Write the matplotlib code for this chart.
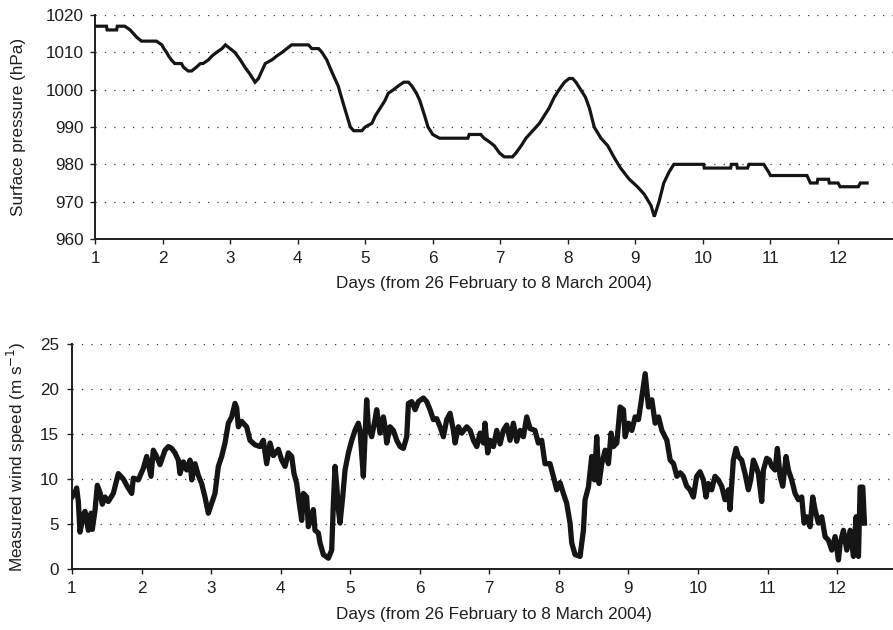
import matplotlib
matplotlib.use("Agg")
import matplotlib.pyplot as plt

plt.rcParams['font.family'] = ['Liberation Sans', 'DejaVu Sans']

# ---- Surface pressure (days, hPa) ----
p_days = [1.0, 1.17, 1.18, 1.32, 1.33, 1.44, 1.52, 1.57, 1.62, 1.69, 1.91, 1.99, 2.02, 2.06, 2.09,
          2.13, 2.18, 2.28, 2.31, 2.38, 2.43, 2.50, 2.56, 2.60, 2.68, 2.73, 2.80, 2.88, 2.93, 3.00,
          3.07, 3.15, 3.22, 3.30, 3.37, 3.42, 3.47, 3.52, 3.62, 3.69, 3.77, 3.84, 3.91, 4.16, 4.21,
          4.31, 4.36, 4.43, 4.50, 4.60, 4.68, 4.73, 4.78, 4.83, 4.95, 5.00, 5.10, 5.15, 5.22, 5.29,
          5.34, 5.42, 5.49, 5.57, 5.64, 5.69, 5.76, 5.81, 5.88, 5.93, 6.00, 6.10, 6.52, 6.54, 6.71,
          6.76, 6.84, 6.91, 6.99, 7.06, 7.18, 7.23, 7.31, 7.38, 7.48, 7.58, 7.65, 7.72, 7.80, 7.87,
          7.95, 8.02, 8.07, 8.12, 8.19, 8.26, 8.32, 8.39, 8.49, 8.59, 8.68, 8.78, 8.91, 9.03, 9.13,
          9.23, 9.28, 9.35, 9.42, 9.50, 9.57, 10.01, 10.02, 10.41, 10.42, 10.50, 10.51, 10.66, 10.68,
          10.90, 10.97, 11.00, 11.54, 11.59, 11.69, 11.70, 11.86, 11.87, 12.00, 12.03, 12.30, 12.33, 12.43]
p_vals = [1017, 1017, 1016, 1016, 1017, 1017, 1016, 1015, 1014, 1013, 1013, 1012, 1011, 1010, 1009,
          1008, 1007, 1007, 1006, 1005, 1005, 1006, 1007, 1007, 1008, 1009, 1010, 1011, 1012, 1011,
          1010, 1008, 1006, 1004, 1002, 1003, 1005, 1007, 1008, 1009, 1010, 1011, 1012, 1012, 1011,
          1011, 1010, 1008, 1005, 1001, 996, 993, 990, 989, 989, 990, 991, 993, 995, 997,
          999, 1000, 1001, 1002, 1002, 1001, 999, 997, 993, 990, 988, 987, 987, 988, 988,
          987, 986, 985, 983, 982, 982, 983, 985, 987, 989, 991, 993, 995, 998, 1000,
          1002, 1003, 1003, 1002, 1000, 998, 995, 990, 987, 985, 982, 979, 976, 974, 972,
          969, 966, 970, 975, 978, 980, 980, 979, 979, 980, 980, 979, 979, 980,
          980, 978, 977, 977, 975, 975, 976, 976, 975, 975, 974, 974, 975, 975]

# ---- Measured wind speed (days, m/s) ----
w_days = [1.000, 1.043, 1.067, 1.091, 1.115, 1.163, 1.187, 1.235, 1.273, 1.292, 1.331, 1.364, 1.403,
          1.436, 1.474, 1.522, 1.594, 1.666, 1.738, 1.786, 1.858, 1.882, 1.954, 2.026, 2.074, 2.136,
          2.169, 2.217, 2.265, 2.337, 2.385, 2.433, 2.481, 2.529, 2.553, 2.601, 2.649, 2.697, 2.721,
          2.769, 2.816, 2.864, 2.912, 2.960, 3.008, 3.056, 3.104, 3.152, 3.200, 3.248, 3.296, 3.344,
          3.368, 3.392, 3.439, 3.511, 3.559, 3.631, 3.703, 3.751, 3.799, 3.847, 3.895, 3.967,
          4.015, 4.063, 4.111, 4.159, 4.192, 4.231, 4.255, 4.303, 4.327, 4.374, 4.398, 4.446, 4.470,
          4.494, 4.542, 4.566, 4.614, 4.686, 4.734, 4.758, 4.782, 4.806, 4.830, 4.854, 4.892, 4.926,
          4.974, 5.022, 5.069, 5.117, 5.141, 5.189, 5.213, 5.237, 5.261, 5.309, 5.357, 5.381, 5.429,
          5.477, 5.501, 5.525, 5.573, 5.621, 5.669, 5.717, 5.765, 5.813, 5.837, 5.885, 5.933, 5.980,
          6.052, 6.100, 6.148, 6.196, 6.244, 6.292, 6.340, 6.388, 6.436, 6.484, 6.508, 6.556, 6.604,
          6.676, 6.724, 6.772, 6.820, 6.868, 6.916,
          6.938, 6.977, 7.011, 7.059, 7.107, 7.155, 7.202, 7.250, 7.298, 7.346, 7.394, 7.442, 7.490,
          7.538, 7.586, 7.657, 7.705, 7.753, 7.801, 7.873, 7.921, 7.969, 8.017, 8.065, 8.113, 8.161,
          8.185, 8.233, 8.305, 8.353, 8.377, 8.425, 8.473, 8.511, 8.545, 8.578, 8.617, 8.665, 8.713,
          8.751, 8.785, 8.833, 8.881, 8.929, 8.953, 9.001, 9.049, 9.097, 9.145, 9.193, 9.241, 9.265,
          9.289, 9.337, 9.385, 9.433, 9.481, 9.553, 9.601, 9.649, 9.697, 9.745,
          9.790, 9.838, 9.886, 9.934, 9.982, 10.030, 10.078, 10.116, 10.150, 10.197, 10.245, 10.293,
          10.341, 10.389, 10.437, 10.461, 10.509, 10.548, 10.581, 10.629, 10.677, 10.725, 10.759,
          10.797, 10.835, 10.869, 10.917, 10.941, 10.989, 11.027, 11.061, 11.109, 11.142, 11.181,
          11.219, 11.267, 11.300, 11.348, 11.396, 11.444, 11.492, 11.526, 11.564, 11.612, 11.650,
          11.684, 11.732, 11.780, 11.828, 11.876, 11.924, 11.972, 12.020, 12.044, 12.092, 12.140,
          12.188, 12.236, 12.274, 12.308, 12.332, 12.370, 12.394]
w_vals = [8.0, 8.5, 9.0, 7.5, 4.1, 6.0, 6.4, 4.3, 6.2, 4.4, 6.5, 9.3, 8.5,
          7.2, 8.0, 7.5, 8.4, 10.6, 10.0, 9.3, 8.4, 10.1, 9.9, 11.2, 12.5, 10.3,
          13.2, 12.5, 11.6, 13.2, 13.6, 13.4, 12.9, 12.1, 10.6, 11.9, 11.0, 12.1, 9.9,
          11.7, 10.4, 9.5, 8.0, 6.2, 7.3, 8.4, 11.4, 12.5, 14.0, 16.2, 16.9, 18.4,
          17.9, 15.8, 16.4, 15.8, 14.3, 13.8, 13.6, 14.3, 11.7, 14.0, 12.6, 13.3,
          12.1, 11.4, 12.9, 12.5, 10.6, 9.5, 8.0, 5.4, 8.4, 8.0, 4.7, 5.8, 6.6,
          4.3, 4.0, 2.9, 1.6, 1.2, 2.1, 7.3, 11.4, 9.3, 6.6, 5.1, 8.0, 11.0,
          12.9, 14.3, 15.4, 16.2, 15.4, 10.3, 14.7, 18.8, 15.8, 14.7, 16.6, 17.7, 15.1,
          16.9, 15.8, 14.0, 15.8, 15.4, 14.3, 13.6, 13.4, 14.7, 18.4, 18.6, 17.7, 18.6,
          19.0, 18.6, 17.7, 16.6, 16.7, 15.8, 14.7, 16.6, 17.3, 15.4, 14.0, 15.8, 15.1,
          15.8, 15.4, 14.3, 13.6, 15.1, 14.0,
          16.2, 12.9, 14.3, 13.6, 15.4, 13.9, 15.4, 16.0, 14.3, 16.2, 14.2, 15.4, 14.7,
          16.9, 15.6, 15.4, 14.0, 14.3, 11.7, 11.7, 10.3, 8.8, 9.6, 8.4, 7.3, 5.1,
          2.9, 1.6, 1.4, 4.3, 7.7, 9.1, 12.5, 9.9, 14.7, 9.5, 11.7, 13.2, 11.7,
          15.1, 13.6, 14.0, 18.0, 17.7, 14.7, 16.2, 15.4, 16.9, 16.6, 19.1, 21.7, 19.9,
          18.0, 18.8, 16.2, 16.9, 15.4, 14.3, 12.1, 11.7, 10.3, 10.7,
          10.3, 9.2, 8.8, 8.0, 10.3, 10.8, 9.9, 8.0, 9.5, 8.8, 10.3, 9.9,
          9.2, 7.7, 8.8, 6.6, 12.1, 13.4, 12.5, 12.1, 10.6, 8.8, 9.9,
          12.1, 11.4, 10.6, 7.5, 11.0, 12.3, 12.1, 11.4, 11.0, 13.4, 10.3,
          9.2, 12.5, 11.0, 9.9, 8.4, 7.7, 8.0, 5.1, 5.8, 4.7, 8.0,
          6.6, 5.1, 5.8, 3.6, 3.2, 2.1, 3.6, 1.0, 2.8, 4.3, 2.1,
          4.3, 1.4, 5.8, 1.4, 9.1, 9.1, 5.1]

x_ticks = list(range(1, 13))
p_ticks = [960, 970, 980, 990, 1000, 1010, 1020]
w_ticks = [0, 5, 10, 15, 20, 25]
x_label = "Days (from 26 February to 8 March 2004)"
p_label = "Surface pressure (hPa)"
w_label = "Measured wind speed (m s$^{-1}$)"

fig = plt.figure(figsize=(8.93, 6.30), dpi=100)
ax1 = fig.add_axes([95/893, 1-239/630, 798/893, 224/630])
ax2 = fig.add_axes([72/893, 1-569/630, 821/893, 225/630])

FS = 12.3
TXT = '#1e1e1e'
grid_style = dict(color='#3a3a3a', linewidth=0.9, linestyle=(0, (1, 6.5)))

def style(ax, yticks, xmax, ypad):
    ax.set_xlim(1, xmax)
    ax.set_ylim(yticks[0], yticks[-1])
    ax.set_xticks(x_ticks)
    ax.set_yticks(yticks)
    for s in ('top', 'right'):
        ax.spines[s].set_visible(False)
    for s in ('left', 'bottom'):
        ax.spines[s].set_linewidth(1.4)
        ax.spines[s].set_color(TXT)
    ax.tick_params(axis='both', direction='out', length=3.5, width=1.0, colors=TXT,
                   labelsize=FS, labelcolor=TXT)
    ax.tick_params(axis='x', pad=5)
    ax.tick_params(axis='y', pad=ypad)
    for yv in yticks[1:]:
        ax.axhline(yv, **grid_style, zorder=0)

ax1.plot(p_days, p_vals, color='#151515', linewidth=2.3, solid_joinstyle='miter', zorder=3)
style(ax1, p_ticks, 1 + 798/67.55, 4.5)
ax1.set_xlabel(x_label, fontsize=FS, color=TXT)
ax1.xaxis.set_label_coords((494-95)/798, -0.165)
ax1.set_ylabel(p_label, fontsize=FS, color=TXT)
ax1.yaxis.set_label_coords((26-95)/798, 0.5)

ax2.plot(w_days, w_vals, color='#151515', linewidth=3.8, solid_joinstyle='round', zorder=3)
style(ax2, w_ticks, 1 + 821/69.55, 6)
ax2.set_xlabel(x_label, fontsize=FS, color=TXT)
ax2.xaxis.set_label_coords((494-72)/821, -0.169)
ax2.set_ylabel(w_label, fontsize=FS, color=TXT)
ax2.yaxis.set_label_coords((28-72)/821, 0.5)

fig.savefig("out.png", dpi=100, facecolor='white')
